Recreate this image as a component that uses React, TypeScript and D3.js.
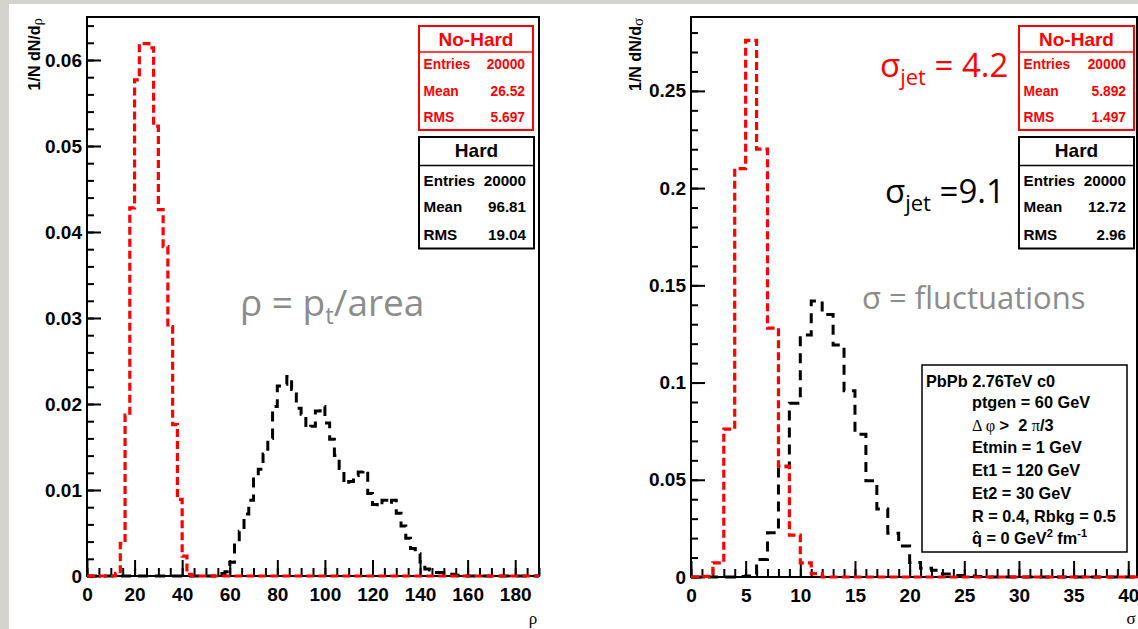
import React, { useEffect, useRef } from 'react';
import * as d3 from 'd3';

// --- rho panel: 1/N dN/drho, bins of width 2 ---
const rhoBinWidth = 2;
const rhoNoHardFirstBin = 12;
const rhoNoHard = [0.0003, 0.0038, 0.0187, 0.0428, 0.0577, 0.0619, 0.0619, 0.0614, 0.0523, 0.0426,
    0.0383, 0.029, 0.0176, 0.0089, 0.0023, 0.0002];
const rhoHardFirstBin = 56;
const rhoHard = [0.0003, 0.0005, 0.0016, 0.0036, 0.0052, 0.0072, 0.0088, 0.0117, 0.0124, 0.0142,
    0.016, 0.0197, 0.0221, 0.0223, 0.0232, 0.0217, 0.0195, 0.0188, 0.0172, 0.0174,
    0.0192, 0.0197, 0.0178, 0.0159, 0.014, 0.0125, 0.0107, 0.011, 0.0117, 0.0121,
    0.0123, 0.0096, 0.0083, 0.0081, 0.0088, 0.0084, 0.0088, 0.0073, 0.0058, 0.0044,
    0.0032, 0.0026, 0.0013, 0.0008, 0.0007, 0.0004, 0.0004, 0.0003, 0.0002, 0.0001];
const rhoXTicks = [0, 20, 40, 60, 80, 100, 120, 140, 160, 180];
const rhoYTicks = [0, 0.01, 0.02, 0.03, 0.04, 0.05, 0.06];
const rhoYTickLabels = ['0', '0.01', '0.02', '0.03', '0.04', '0.05', '0.06'];

// --- sigma panel: 1/N dN/dsigma, bins of width 1 ---
const sigmaBinWidth = 1;
const sigmaNoHardFirstBin = 0;
const sigmaNoHard = [0, 0.0003, 0.0073, 0.076, 0.21, 0.276, 0.22, 0.128, 0.057, 0.0215, 0.0073, 0.0017];
const sigmaHardFirstBin = 4;
const sigmaHard = [0.0002, 0.0005, 0.009, 0.0228, 0.0567, 0.0893, 0.1245, 0.142, 0.135, 0.1193,
    0.0958, 0.0734, 0.0495, 0.035, 0.0225, 0.016, 0.0075, 0.0045, 0.0035, 0.0015,
    0.0008, 0.0005, 0.0003];
const sigmaXTicks = [0, 5, 10, 15, 20, 25, 30, 35, 40];
const sigmaYTicks = [0, 0.05, 0.1, 0.15, 0.2, 0.25];
const sigmaYTickLabels = ['0', '0.05', '0.1', '0.15', '0.2', '0.25'];

// stat boxes
const rhoNoHardStats = [['Entries', '20000'], ['Mean', '26.52'], ['RMS', '5.697']];
const rhoHardStats = [['Entries', '20000'], ['Mean', '96.81'], ['RMS', '19.04']];
const sigmaNoHardStats = [['Entries', '20000'], ['Mean', '5.892'], ['RMS', '1.497']];
const sigmaHardStats = [['Entries', '20000'], ['Mean', '12.72'], ['RMS', '2.96']];

const settingsLines = ['ptgen = 60 GeV', 'DPHI', 'Etmin = 1 GeV', 'Et1 = 120 GeV', 'Et2 = 30 GeV',
    'R = 0.4, Rbkg = 0.5', 'QHAT'];

const ROOT_FONT = '"Liberation Sans", Arial, Helvetica, sans-serif';
const SYMBOL_FONT = '"Liberation Serif", "DejaVu Serif", serif';
const SLIDE_FONT = '"Open Sans", "DejaVu Sans", sans-serif';
const RED = '#ff0000';
const GREY = '#8c8c8c';
const NBSP = '\u00a0';

const App = () => {
    const chartRef = useRef(null);

    useEffect(() => {
        drawChart();
    }, []);

    const drawPanel = (svg, p) => {
        const x = d3.scaleLinear().domain(p.xDomain).range([p.frame.x0, p.frame.x1]);
        const y = d3.scaleLinear().domain(p.yDomain).range([p.frame.y1, p.frame.y0]);

        svg.append('rect')
            .attr('x', p.frame.x0).attr('y', p.frame.y0)
            .attr('width', p.frame.x1 - p.frame.x0).attr('height', p.frame.y1 - p.frame.y0)
            .attr('fill', 'white').attr('stroke', 'black').attr('stroke-width', 2);

        // ticks point into the frame, labels stay outside
        const yMinor = svg.append('g')
            .attr('transform', `translate(${p.frame.x0},0)`)
            .call(d3.axisLeft(y).tickValues(p.yMinor).tickSize(-7).tickFormat(() => ''));
        const yMajor = svg.append('g')
            .attr('transform', `translate(${p.frame.x0},0)`)
            .call(d3.axisLeft(y).tickValues(p.yTicks).tickSize(-14).tickPadding(5)
                .tickFormat((d, i) => p.yTickLabels[i]));
        const xMinor = svg.append('g')
            .attr('transform', `translate(0,${p.frame.y1})`)
            .call(d3.axisBottom(x).tickValues(p.xMinor).tickSize(-8).tickFormat(() => ''));
        const xMajor = svg.append('g')
            .attr('transform', `translate(0,${p.frame.y1})`)
            .call(d3.axisBottom(x).tickValues(p.xTicks).tickSize(-16).tickPadding(12));

        [yMinor, yMajor, xMinor, xMajor].forEach(g => {
            g.select('.domain').remove();
            g.selectAll('line').attr('stroke', 'black').attr('stroke-width', 2);
            g.selectAll('text')
                .attr('font-family', ROOT_FONT).attr('font-weight', 'bold')
                .attr('font-size', 19).attr('fill', 'black');
        });

        const line = d3.line().x(d => x(d[0])).y(d => y(d[1]));
        const stepPoints = (first, width, values) => {
            const pts = [[p.xDomain[0], 0], [first, 0]];
            values.forEach((v, i) => {
                pts.push([first + i * width, v], [first + (i + 1) * width, v]);
            });
            const end = first + values.length * width;
            pts.push([end, 0], [p.xDomain[1], 0]);
            return pts;
        };

        svg.append('path')
            .attr('d', line(stepPoints(p.hardFirst, p.binWidth, p.hard)))
            .attr('fill', 'none').attr('stroke', 'black')
            .attr('stroke-width', 3).attr('stroke-dasharray', '10 7');
        svg.append('path')
            .attr('d', line(stepPoints(p.noHardFirst, p.binWidth, p.noHard)))
            .attr('fill', 'none').attr('stroke', RED)
            .attr('stroke-width', 3.2).attr('stroke-dasharray', '8 4');

        // axis titles
        svg.append('text')
            .attr('x', p.frame.x1 - 6).attr('y', 624)
            .attr('text-anchor', 'middle')
            .attr('font-family', SYMBOL_FONT).attr('font-size', 17)
            .text(p.xTitle);
        const yTitle = svg.append('text')
            .attr('transform', `translate(${p.yTitleX},${p.frame.y0 + 1}) rotate(-90)`)
            .attr('text-anchor', 'end')
            .attr('font-family', ROOT_FONT).attr('font-weight', 'bold').attr('font-size', 16);
        yTitle.append('tspan').text('1/N dN/d');
        yTitle.append('tspan')
            .attr('font-family', SYMBOL_FONT).attr('font-weight', 'normal')
            .attr('font-size', 15).attr('dy', 2).text(p.xTitle);
    };

    const drawStats = (svg, bx, by, w, title, rows, color, small) => {
        const h = small ? 104 : 111.5;
        const sep = small ? 26 : 28.5;
        const rowY = small ? [43, 69.7, 96.3] : [48.5, 75.3, 103];
        const fs = small ? 13.8 : 15.2;
        const g = svg.append('g').attr('transform', `translate(${bx},${by})`);
        g.append('rect').attr('width', w).attr('height', h)
            .attr('fill', 'white').attr('stroke', color).attr('stroke-width', 2);
        g.append('line').attr('x1', 0).attr('x2', w).attr('y1', sep).attr('y2', sep)
            .attr('stroke', color).attr('stroke-width', 1.5);
        g.append('text')
            .attr('x', w / 2).attr('y', 19.5).attr('text-anchor', 'middle')
            .attr('font-family', ROOT_FONT).attr('font-weight', 'bold').attr('font-size', 19)
            .attr('fill', color).text(title);
        rows.forEach((r, i) => {
            g.append('text').attr('x', 4.5).attr('y', rowY[i])
                .attr('font-family', ROOT_FONT).attr('font-weight', 'bold').attr('font-size', fs)
                .attr('fill', color).text(r[0]);
            g.append('text').attr('x', w - 8).attr('y', rowY[i]).attr('text-anchor', 'end')
                .attr('font-family', ROOT_FONT).attr('font-weight', 'bold').attr('font-size', fs)
                .attr('fill', color).text(r[1]);
        });
    };

    const drawChart = () => {
        const svg = d3.select(chartRef.current);
        svg.selectAll('*').remove();

        svg.append('rect').attr('width', 1138).attr('height', 629).attr('fill', '#d5d3ce');
        svg.append('rect').attr('x', 9).attr('y', 4).attr('width', 1129).attr('height', 625)
            .attr('fill', 'white');

        drawPanel(svg, {
            frame: { x0: 87, x1: 539, y0: 17, y1: 576 },
            xDomain: [0, 190], yDomain: [0, 0.065],
            xTicks: rhoXTicks, xMinor: d3.range(0, 191, 5),
            yTicks: rhoYTicks, yTickLabels: rhoYTickLabels, yMinor: d3.range(0, 33).map(i => i * 0.002),
            binWidth: rhoBinWidth,
            noHardFirst: rhoNoHardFirstBin, noHard: rhoNoHard,
            hardFirst: rhoHardFirstBin, hard: rhoHard,
            xTitle: 'ρ', yTitleX: 40,
        });
        drawPanel(svg, {
            frame: { x0: 691, x1: 1137, y0: 17, y1: 577 },
            xDomain: [0, 40.8], yDomain: [0, 0.288],
            xTicks: sigmaXTicks, xMinor: d3.range(0, 41, 1),
            yTicks: sigmaYTicks, yTickLabels: sigmaYTickLabels, yMinor: d3.range(0, 29).map(i => i * 0.01),
            binWidth: sigmaBinWidth,
            noHardFirst: sigmaNoHardFirstBin, noHard: sigmaNoHard,
            hardFirst: sigmaHardFirstBin, hard: sigmaHard,
            xTitle: 'σ', yTitleX: 641,
        });

        drawStats(svg, 419, 26, 114, 'No-Hard', rhoNoHardStats, RED, true);
        drawStats(svg, 419, 137, 115, 'Hard', rhoHardStats, 'black', false);
        drawStats(svg, 1019, 26, 115, 'No-Hard', sigmaNoHardStats, RED, true);
        drawStats(svg, 1019, 137, 115, 'Hard', sigmaHardStats, 'black', false);

        // slide annotations
        const rhoNote = svg.append('text').attr('x', 240).attr('y', 316)
            .attr('font-family', SLIDE_FONT).attr('font-size', 37).attr('fill', GREY);
        rhoNote.append('tspan').text('ρ = p');
        rhoNote.append('tspan').attr('font-size', 24).attr('dy', 8).text('t');
        rhoNote.append('tspan').attr('dy', -8).text('/area');

        svg.append('text').attr('x', 862).attr('y', 309)
            .attr('font-family', SLIDE_FONT).attr('font-size', 31).attr('fill', GREY)
            .text('σ = fluctuations');

        const jetRed = svg.append('text').attr('x', 880).attr('y', 77)
            .attr('font-family', SLIDE_FONT).attr('font-size', 33).attr('fill', RED);
        jetRed.append('tspan').text('σ');
        jetRed.append('tspan').attr('font-size', 22).attr('dy', 8).text('jet');
        jetRed.append('tspan').attr('dy', -8).text(' = 4.2');

        const jetBlack = svg.append('text').attr('x', 885).attr('y', 203)
            .attr('font-family', SLIDE_FONT).attr('font-size', 33).attr('fill', 'black');
        jetBlack.append('tspan').text('σ');
        jetBlack.append('tspan').attr('font-size', 22).attr('dy', 8).text('jet');
        jetBlack.append('tspan').attr('dy', -8).text(' =9.1');

        // generator settings box
        const box = svg.append('g').attr('transform', 'translate(922,365)');
        box.append('rect').attr('width', 205).attr('height', 187)
            .attr('fill', 'white').attr('stroke', 'black').attr('stroke-width', 1.5);
        const txt = (xx, yy) => box.append('text').attr('x', xx).attr('y', yy)
            .attr('font-family', ROOT_FONT).attr('font-weight', 'bold').attr('font-size', 16.3);
        txt(4, 22).text('PbPb 2.76TeV c0');
        settingsLines.forEach((s, i) => {
            const t = txt(50, 43 + i * 22.7);
            if (s === 'DPHI') {
                t.append('tspan').attr('font-family', SYMBOL_FONT).attr('font-weight', 'normal').text('Δ φ');
                t.append('tspan').text(` >${NBSP} 2 `);
                t.append('tspan').attr('font-family', SYMBOL_FONT).attr('font-weight', 'normal').text('π');
                t.append('tspan').text('/3');
            } else if (s === 'QHAT') {
                t.append('tspan').text('q̂ = 0 GeV');
                t.append('tspan').attr('font-size', 11).attr('dy', -7).text('2');
                t.append('tspan').attr('dy', 7).text(' fm');
                t.append('tspan').attr('font-size', 11).attr('dy', -7).text('-1');
            } else {
                t.text(s);
            }
        });
    };

    return (
        <svg ref={chartRef} width={1138} height={629}
            style={{ position: 'absolute', left: 0, top: 0, display: 'block' }} />
    );
};

export default App;
